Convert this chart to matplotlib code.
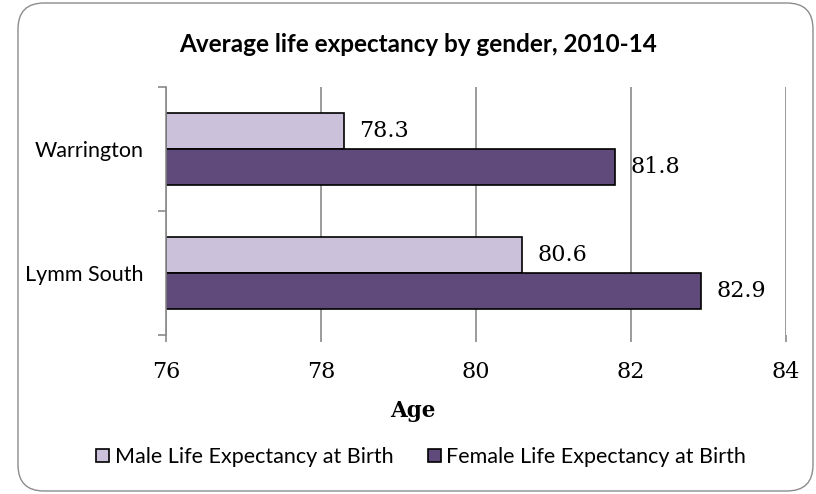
import matplotlib.pyplot as plt
import numpy as np
from matplotlib.patches import FancyBboxPatch

# data
areas = ["Lymm South", "Warrington"]
male = [80.6, 78.3]
female = [82.9, 81.8]
series_names = ["Male Life Expectancy at Birth", "Female Life Expectancy at Birth"]
xticks = [76, 78, 80, 82, 84]

male_col = "#CCC1DA"
female_col = "#604A7B"
grey = "#8a8a8a"
sans = "Lato"
serif = "DejaVu Serif"

W, H = 816, 494
fig = plt.figure(figsize=(W / 100, H / 100), dpi=100)
ax = fig.add_axes([166 / W, 1 - 335 / H, 620 / W, 248 / H])

# rounded chart border
fig.patches.append(FancyBboxPatch((18 / W, 3 / H), 795 / W, 488 / H,
                                  boxstyle="round,pad=0,rounding_size=0.032",
                                  transform=fig.transFigure, fc="none", ec="#8c8c8c", lw=1.0,
                                  mutation_aspect=W / H))

y = np.arange(len(areas))
h = 0.29
base = xticks[0]
b1 = ax.barh(y + h / 2, np.array(male) - base, left=base, height=h, color=male_col,
             edgecolor="black", linewidth=1.2, label=series_names[0])
b2 = ax.barh(y - h / 2, np.array(female) - base, left=base, height=h, color=female_col,
             edgecolor="black", linewidth=1.2, label=series_names[1])

for bars, vals in ((b1, male), (b2, female)):
    for bar, v in zip(bars, vals):
        ax.annotate(f"{v:.1f}", (v, bar.get_y() + bar.get_height() / 2), xytext=(11, 0),
                    textcoords="offset points", va="center", ha="left",
                    fontsize=16, family=serif)

ax.set_xlim(76, 84)
ax.set_ylim(-0.5, 1.5)
ax.set_xticks(xticks)
ax.set_xticklabels([str(t) for t in xticks], family=serif, fontsize=16)
ax.set_yticks(y)
ax.set_yticklabels(areas, family=sans, fontsize=15.5)
ax.set_yticks([-0.5, 0.5, 1.5], minor=True)
ax.tick_params(axis="y", which="major", length=0, pad=16)
ax.tick_params(axis="y", which="minor", length=5.5, color=grey, width=1.2)
ax.tick_params(axis="x", length=5, color=grey, width=1.2, pad=14)

ax.grid(axis="x", color=grey, lw=1.2)
ax.set_axisbelow(True)
for s in ("top", "right", "bottom"):
    ax.spines[s].set_visible(False)
ax.spines["left"].set_color(grey)
ax.spines["left"].set_linewidth(1.2)

fig.text(413 / W, 1 - 411 / H, "Age", ha="center", va="center",
         family=serif, fontsize=15.5, fontweight="bold")
fig.text(418 / W, 1 - 45 / H, "Average life expectancy by gender, 2010-14", ha="center", va="center",
         family=sans, fontsize=17.5, fontweight="bold")

fig.legend(handles=[b1, b2], labels=series_names, loc="center", bbox_to_anchor=(421 / W, 1 - 457 / H),
           ncol=2, frameon=False, prop={"family": sans, "size": 15.5}, handlelength=0.6,
           handleheight=0.6, handletextpad=0.25, columnspacing=1.6)

plt.savefig("out.png", dpi=100)
